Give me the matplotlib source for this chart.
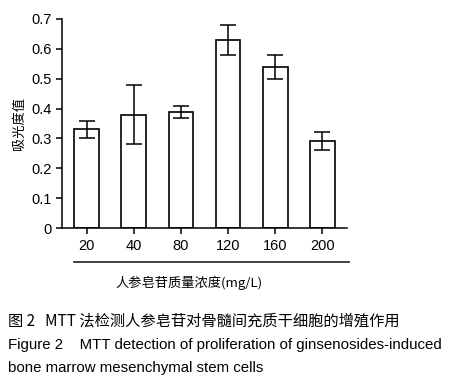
import matplotlib
matplotlib.use("Agg")
import matplotlib.pyplot as plt
from matplotlib.lines import Line2D

categories = ["20", "40", "80", "120", "160", "200"]
values = [0.33, 0.38, 0.39, 0.63, 0.54, 0.29]
errors = [0.03, 0.10, 0.02, 0.05, 0.04, 0.03]
yticks = [0, 0.1, 0.2, 0.3, 0.4, 0.5, 0.6, 0.7]
ytick_labels = ["0", "0.1", "0.2", "0.3", "0.4", "0.5", "0.6", "0.7"]

plt.rcParams['font.family'] = ['Liberation Sans', 'Noto Sans CJK SC', 'DejaVu Sans']

fig = plt.figure(figsize=(4.49, 3.8), dpi=100)
ax = fig.add_axes([62/449, 1-228/380, (347-62)/449, (228-19)/380])

x = list(range(len(categories)))
ax.bar(x, values, width=0.53, color='white', edgecolor='black', linewidth=1.2,
       yerr=errors, capsize=6, error_kw=dict(elinewidth=1.1, capthick=1.1, ecolor='black'))
ax.set_xlim(-0.53, 5.53)
ax.set_ylim(0, 0.7)
ax.set_yticks(yticks)
ax.set_yticklabels(ytick_labels)
ax.set_xticks(x)
ax.set_xticklabels(categories)
for s in ['top', 'right']:
    ax.spines[s].set_visible(False)
for s in ['left', 'bottom']:
    ax.spines[s].set_linewidth(1.1)
ax.tick_params(axis='both', labelsize=10.5, width=1.1, length=4, color='black', direction='out')
ax.tick_params(axis='x', pad=4)
ax.set_ylabel("吸光度值", fontsize=9.5, family=['Noto Sans CJK SC'], labelpad=4)

# separator line under tick labels
fig.add_artist(Line2D([74/449, 349/449], [1-262/380, 1-262/380], color='#333333', linewidth=1.3))
fig.text(189/449, 1-283/380, "人参皂苷质量浓度(mg/L)", ha='center', va='center', fontsize=9.5,
         family=['Noto Sans CJK SC', 'Liberation Sans'])

fig.text(8/449, 1-321/380, "图 2   MTT 法检测人参皂苷对骨髓间充质干细胞的增殖作用", ha='left', va='center',
         fontsize=11, family=['Noto Sans CJK SC'])
fig.text(8/449, 1-345/380, "Figure 2    MTT detection of proliferation of ginsenosides-induced", ha='left', va='center',
         fontsize=10.8, family=['Liberation Sans'])
fig.text(8/449, 1-368/380, "bone marrow mesenchymal stem cells", ha='left', va='center',
         fontsize=10.8, family=['Liberation Sans'])

fig.savefig("out.png", dpi=100)
